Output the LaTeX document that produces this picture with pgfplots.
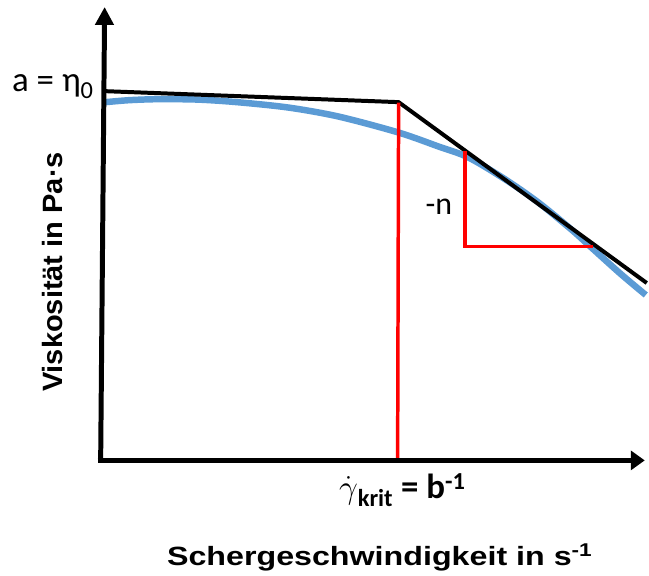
\documentclass[border=0pt]{standalone}
\usepackage{fontspec}
\setmainfont{Liberation Sans}
\newfontfamily\calfont{Carlito}
\usepackage{pgfplots}
\pgfplotsset{compat=1.18}
\usetikzlibrary{arrows.meta}
\definecolor{curveblue}{HTML}{5B9BD5}
\definecolor{markred}{HTML}{FF0000}

\begin{document}
\begin{tikzpicture}
\begin{axis}[
  width=649pt, height=578pt, scale only axis,
  xmin=0, xmax=649, ymin=0, ymax=578, y dir=reverse,
  axis line style={draw=none}, xtick=\empty, ytick=\empty,
  clip=false,
]
% measured viscosity curve
\addplot[curveblue, line width=6.5pt, smooth, tension=0.5] coordinates {
  (106,102.5) (130,100.5) (160,99.5) (200,100) (240,102.7) (290,108)
  (340,117) (400,133) (440,147) (470,158) (507,180) (540,203)
  (573,230) (593,248) (623,275) (648,296)
};
% asymptotes: zero-shear plateau and power-law branch
\addplot[black, line width=4pt, line join=miter] coordinates {
  (106,91.5) (400,102.5) (649,284)
};
% critical shear rate and slope triangle
\addplot[markred, line width=3.5pt] coordinates {(400,103) (399,460)};
\addplot[markred, line width=3.5pt, line join=miter] coordinates {
  (466.5,152) (466.5,247.5) (595,247.5)
};
% coordinate arrows
\addplot[black, line width=5pt, -{Triangle[width=19pt,length=14pt]}] coordinates {(98,462) (647,462)};
\addplot[black, line width=5pt, -{Triangle[width=18pt,length=18pt]}] coordinates {(101,462) (105,7)};

\node[anchor=base west, inner sep=0pt] at (axis cs:12,92) {\calfont\fontsize{35}{40}\selectfont a = η\textsubscript{0}};
\node[anchor=base west, inner sep=0pt] at (axis cs:427,215) {\calfont\fontsize{32}{36}\selectfont -n};
\node[anchor=base west, inner sep=0pt] at (axis cs:340,500) {\calfont\bfseries\fontsize{35}{40}\selectfont \scalebox{1.35}{$\dot{\gamma}$}\textsubscript{krit} = b\textsuperscript{-1}};
\node[anchor=base, inner sep=0pt] at (axis cs:381,567) {\scalebox{1.22}[1]{\bfseries\fontsize{26.5}{30}\selectfont Schergeschwindigkeit in s\textsuperscript{-1}}};
\node[anchor=base, inner sep=0pt, rotate=90] at (axis cs:63,273) {\scalebox{1.04}[1]{\bfseries\fontsize{28}{32}\selectfont Viskosität in Pa·s}};
\end{axis}
\end{tikzpicture}
\end{document}
